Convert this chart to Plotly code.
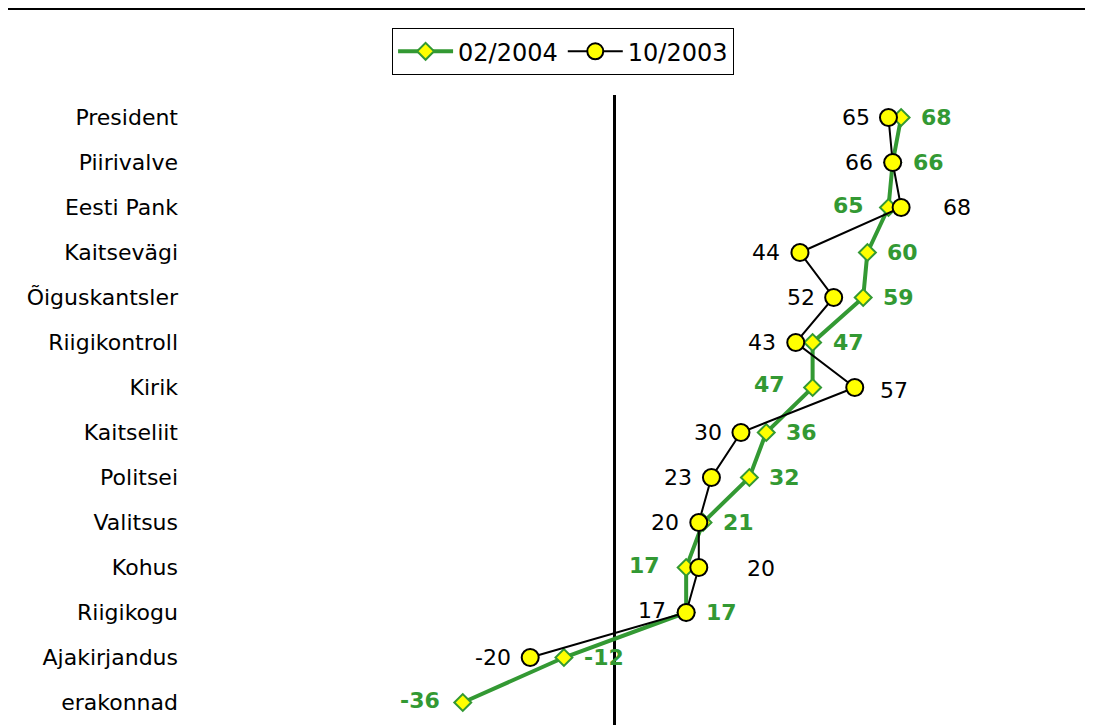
import plotly.graph_objects as go

# ── Data ────────────────────────────────────────────────────────────────
categories = ['President', 'Piirivalve', 'Eesti Pank', 'Kaitsevägi', 'Õiguskantsler',
              'Riigikontroll', 'Kirik', 'Kaitseliit', 'Politsei', 'Valitsus',
              'Kohus', 'Riigikogu', 'Ajakirjandus', 'erakonnad']
feb_2004 = [68, 66, 65, 60, 59, 47, 47, 36, 32, 21, 17, 17, -12, -36]
oct_2003 = [65, 66, 68, 44, 52, 43, 57, 30, 23, 20, 20, 17, -20, None]

# label placement (pixel offsets from the marker)
feb_shift = [18, 18, -22, 18, 18, 18, -26, 18, 18, 18, -24, 18, 18, -21]
feb_yshift = [0, 0, 2, 0, 0, 0, 3, 0, 0, 0, 2, 0, 0, 2]
oct_shift = [-16, -18, 40, -18, -17, -18, 23, -17, -17, -18, 46, -18, -17, 0]
oct_yshift = [0, 0, 0, 0, 0, 0, -3, 0, 0, 0, -1, 2, 0, 0]

GREEN = '#339933'
FONT = 'DejaVu Sans, Verdana, sans-serif'
FS = 22

fig = go.Figure()
fig.add_trace(go.Scatter(
    x=feb_2004, y=categories, name='02/2004', mode='lines+markers',
    line=dict(color=GREEN, width=4),
    marker=dict(symbol='diamond', size=13, color='#ffff00',
                line=dict(color=GREEN, width=2))
))
fig.add_trace(go.Scatter(
    x=oct_2003, y=categories, name='10/2003', mode='lines+markers',
    line=dict(color='black', width=2),
    marker=dict(symbol='circle', size=17, color='#ffff00',
                line=dict(color='black', width=2))
))

annotations = []
for cat, v, dx, dy in zip(categories, feb_2004, feb_shift, feb_yshift):
    annotations.append(dict(
        x=v, y=cat, text=f'<b>{v}</b>', showarrow=False,
        xanchor='left' if dx > 0 else 'right', xshift=dx, yshift=dy,
        font=dict(color=GREEN, size=FS, family=FONT)))
for cat, v, dx, dy in zip(categories, oct_2003, oct_shift, oct_yshift):
    if v is None:
        continue
    annotations.append(dict(
        x=v, y=cat, text=str(v), showarrow=False,
        xanchor='left' if dx > 0 else 'right', xshift=dx, yshift=dy,
        font=dict(color='black', size=FS, family=FONT)))

fig.update_layout(
    width=1093, height=726,
    margin=dict(l=185, r=65, t=87, b=9),
    plot_bgcolor='white', paper_bgcolor='white',
    font=dict(family=FONT, size=FS, color='black'),
    showlegend=True,
    legend=dict(orientation='h', x=0.439, xanchor='center', y=1.106, yanchor='top',
                bordercolor='black', borderwidth=1, font=dict(size=24),
                itemwidth=55, tracegroupgap=0),
    annotations=annotations,
    shapes=[dict(type='line', xref='paper', yref='paper',
                 x0=-0.23, x1=1.1, y0=1.1373, y1=1.1373,
                 line=dict(color='black', width=3))],
)
fig.update_xaxes(range=[-100, 100], showgrid=False, showticklabels=False,
                 zeroline=True, zerolinecolor='black', zerolinewidth=3,
                 showline=False)
fig.update_yaxes(type='category', categoryarray=categories, range=[13.5, -0.5],
                 showgrid=False, showline=False, ticks='',
                 ticklabelstandoff=14, tickfont=dict(size=FS))

fig.write_html('out.html')
